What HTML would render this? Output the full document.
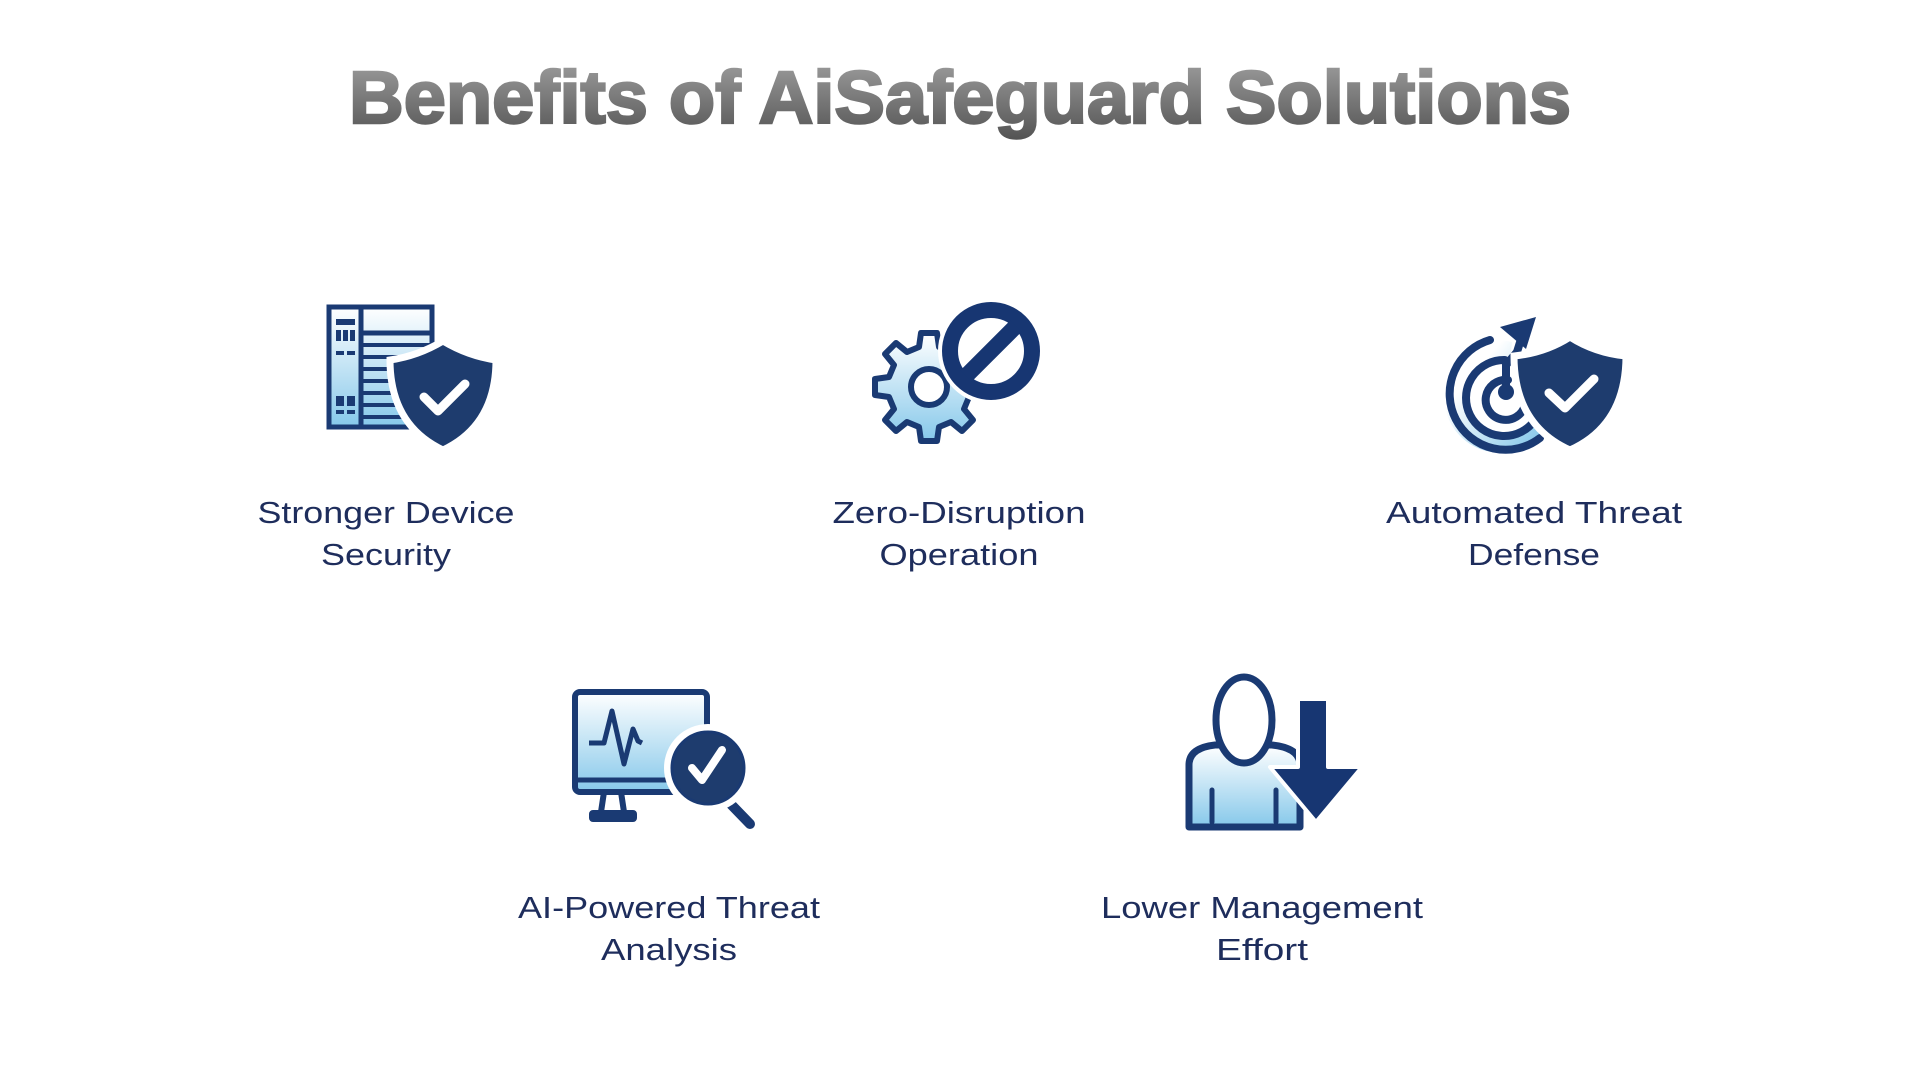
<!DOCTYPE html>
<html><head><meta charset="utf-8"><style>
html,body{margin:0;padding:0;background:#fff;}
svg{display:block}
.lbl{font-family:"Liberation Sans",sans-serif;font-size:31px;fill:#1e2d5c;text-anchor:middle}
</style></head><body>
<svg width="1920" height="1080" viewBox="0 0 1920 1080" xmlns="http://www.w3.org/2000/svg">
<defs>
<linearGradient id="tg" x1="0" y1="0" x2="0" y2="1"><stop offset="0" stop-color="#a0a0a0"/><stop offset="1" stop-color="#545454"/></linearGradient>
<linearGradient id="bg" x1="0" y1="0" x2="0" y2="1"><stop offset="0" stop-color="#ffffff"/><stop offset="1" stop-color="#86c8ea"/></linearGradient>
<linearGradient id="bg2" x1="0" y1="0" x2="1" y2="1"><stop offset="0" stop-color="#ffffff"/><stop offset="0.3" stop-color="#ffffff"/><stop offset="1" stop-color="#7cc3e8"/></linearGradient>
</defs>
<text x="960" y="123" font-family="Liberation Sans, sans-serif" font-weight="bold" font-size="74" fill="url(#tg)" stroke="url(#tg)" stroke-width="2.5" text-anchor="middle" textLength="1222" lengthAdjust="spacingAndGlyphs">Benefits of AiSafeguard Solutions</text>

<!-- Icon 1 -->
<g stroke="#1a3a73" fill="none">
<rect x="329" y="307" width="103" height="120" fill="url(#bg)" stroke-width="5"/>
<line x1="361" y1="307" x2="361" y2="427" stroke-width="5"/>
<line x1="361" y1="333" x2="432" y2="333" stroke-width="5"/>
<g stroke-width="4"><line x1="361" y1="345" x2="432" y2="345"/><line x1="361" y1="357" x2="432" y2="357"/><line x1="361" y1="369" x2="432" y2="369"/><line x1="361" y1="381" x2="432" y2="381"/><line x1="361" y1="393" x2="432" y2="393"/><line x1="361" y1="405" x2="432" y2="405"/><line x1="361" y1="417" x2="432" y2="417"/></g>
</g>
<g fill="#1a3a73"><rect x="336" y="319" width="19" height="6"/><rect x="336" y="330" width="5" height="11"/><rect x="343" y="330" width="5" height="11"/><rect x="350" y="330" width="5" height="11"/><rect x="336" y="351" width="8" height="4"/><rect x="347" y="351" width="8" height="4"/><rect x="336" y="396" width="8" height="10"/><rect x="347" y="396" width="8" height="10"/><rect x="336" y="410" width="8" height="4"/><rect x="347" y="410" width="8" height="4"/></g>
<path d="M443 341 Q418 356 390 360 Q390 425 443 450 Q496 425 496 360 Q468 356 443 341Z" fill="#1e3c6e" stroke="#fff" stroke-width="7"/>
<path d="M424 397 L438 411 L465 384" fill="none" stroke="#fff" stroke-width="9" stroke-linecap="round" stroke-linejoin="round"/>
<text class="lbl" x="386" y="523" textLength="257" lengthAdjust="spacingAndGlyphs">Stronger Device</text>
<text class="lbl" x="386" y="565" textLength="130" lengthAdjust="spacingAndGlyphs">Security</text>

<!-- Icon 2 -->
<g transform="translate(929,387)">
<path d="M-8,-54 L8,-54 L10,-40 L22,-35 L33,-44 L44,-33 L35,-22 L40,-10 L54,-8 L54,8 L40,10 L35,22 L44,33 L33,44 L22,35 L10,40 L8,54 L-8,54 L-10,40 L-22,35 L-33,44 L-44,33 L-35,22 L-40,10 L-54,8 L-54,-8 L-40,-10 L-35,-22 L-44,-33 L-33,-44 L-22,-35 L-10,-40Z" fill="url(#bg)" stroke="#1a3a73" stroke-width="6" stroke-linejoin="round"/>
<circle cx="0" cy="0" r="18" fill="#fff" stroke="#1a3a73" stroke-width="6"/>
</g>
<circle cx="991" cy="351" r="53" fill="#fff"/>
<circle cx="991" cy="351" r="41" fill="#fff" stroke="#173672" stroke-width="16"/>
<line x1="1016" y1="326" x2="966" y2="376" stroke="#173672" stroke-width="16"/>
<text class="lbl" x="959" y="523" textLength="253" lengthAdjust="spacingAndGlyphs">Zero-Disruption</text>
<text class="lbl" x="959" y="565" textLength="159" lengthAdjust="spacingAndGlyphs">Operation</text>

<!-- Icon 3 -->
<path d="M1512,342 A56,56 0 1 0 1540,436 L1536,420 A38,38 0 1 1 1510,362Z" fill="url(#bg2)"/>
<g fill="none" stroke="#1a3a73" stroke-width="8" stroke-linecap="round">
<path d="M1490,340 A56,56 0 1 0 1540,438"/>
<path d="M1505,360 A38,38 0 1 0 1535,420"/>
<path d="M1508,380 A20,20 0 1 0 1525,405"/>
<path d="M1506,392 L1506,365 L1517,352 L1522,336"/>
</g>
<circle cx="1506" cy="392" r="8" fill="#1a3a73"/>
<path d="M1500,327 L1536,317 L1526,349Z" fill="#1a3a73"/>
<path d="M1570,337 Q1545 353 1514 356 Q1514 425 1570 450 Q1626 425 1626 356 Q1595 353 1570 337Z" fill="#1e3c6e" stroke="#fff" stroke-width="7"/>
<path d="M1549 393 L1565 408 L1594 379" fill="none" stroke="#fff" stroke-width="9" stroke-linecap="round" stroke-linejoin="round"/>
<text class="lbl" x="1534" y="523" textLength="296" lengthAdjust="spacingAndGlyphs">Automated Threat</text>
<text class="lbl" x="1534" y="565" textLength="132" lengthAdjust="spacingAndGlyphs">Defense</text>

<!-- Icon 4 -->
<rect x="575" y="692" width="132" height="100" rx="5" fill="url(#bg)" stroke="#1a3a73" stroke-width="6"/>
<line x1="575" y1="780" x2="707" y2="780" stroke="#1a3a73" stroke-width="5"/>
<path d="M601,812 L604,792 M624,812 L621,792" stroke="#1a3a73" stroke-width="6"/>
<rect x="589" y="810" width="48" height="12" rx="4" fill="#1a3a73"/>
<polyline points="589,743 604,743 612,711 624,764 633,729 638,741 642,743" fill="none" stroke="#1a3a73" stroke-width="5" stroke-linejoin="round"/>
<line x1="720" y1="793" x2="750" y2="824" stroke="#1a3a73" stroke-width="10" stroke-linecap="round"/>
<circle cx="708" cy="768" r="44" fill="#fff"/>
<circle cx="708" cy="768" r="36" fill="#1e3c6e" stroke="#1a3a73" stroke-width="3"/>
<path d="M692 768 L702 780 L722 750" fill="none" stroke="#fff" stroke-width="8" stroke-linecap="round" stroke-linejoin="round"/>
<text class="lbl" x="669" y="918" textLength="302" lengthAdjust="spacingAndGlyphs">AI-Powered Threat</text>
<text class="lbl" x="669" y="960" textLength="136" lengthAdjust="spacingAndGlyphs">Analysis</text>

<!-- Icon 5 -->
<path d="M1189,827 L1189,765 Q1189,748 1215,745 L1272,745 Q1300,748 1300,765 L1300,827Z" fill="url(#bg)" stroke="#1a3a73" stroke-width="7" stroke-linejoin="round"/>
<ellipse cx="1244" cy="720" rx="28" ry="43" fill="#fff" stroke="#1a3a73" stroke-width="7"/>
<path d="M1212,790 L1212,822 M1276,790 L1276,822" stroke="#1a3a73" stroke-width="5" stroke-linecap="round"/>
<path d="M1298,699 L1328,699 L1328,767 L1362,767 L1316,822 L1270,767 L1298,767Z" fill="#173672" stroke="#fff" stroke-width="4" stroke-linejoin="round"/>
<text class="lbl" x="1262" y="918" textLength="322" lengthAdjust="spacingAndGlyphs">Lower Management</text>
<text class="lbl" x="1262" y="960" textLength="92" lengthAdjust="spacingAndGlyphs">Effort</text>
</svg>
</body></html>
